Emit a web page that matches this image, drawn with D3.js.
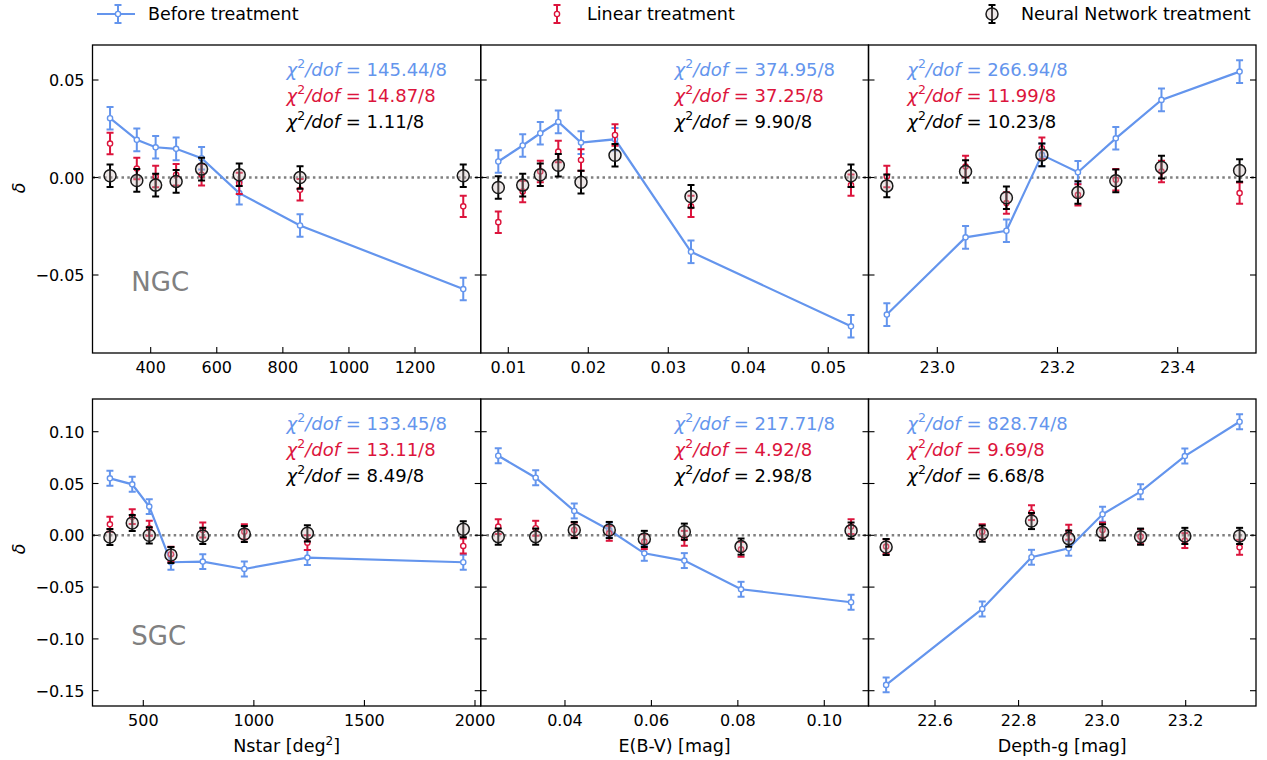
<!DOCTYPE html>
<html>
<head>
<meta charset="utf-8">
<script src="https://cdn.jsdelivr.net/npm/d3@7"></script>
<style>
  body { margin: 0; background: #fff; }
  svg { display: block; font-family: "DejaVu Sans", sans-serif; }
</style>
</head>
<body>
<svg id="chart" width="1267" height="760"></svg>
<script>
// ---- Systematics: mean density contrast delta per bin of each imaging map ----

// NGC, stellar density
const xNstarNGC      = [277, 358, 415, 477, 554, 668, 852, 1346];
const beforeNstarNGC = [0.0304, 0.0193, 0.0155, 0.0147, 0.0099, -0.0080, -0.0246, -0.0572];
const linearNstarNGC = [0.0174, 0.0046, 0.0005, 0.0014, 0.0014, -0.0030, -0.0063, -0.0148];
const nnNstarNGC     = [0.0009, -0.0015, -0.0039, -0.0020, 0.0043, 0.0014, 0.0000, 0.0009];
const chiNstarNGC    = ["145.44/8", "14.87/8", "1.11/8"];

// NGC, E(B-V)
const xEbvNGC      = [0.00875, 0.01180, 0.01400, 0.01625, 0.01909, 0.02334, 0.03284, 0.05284];
const beforeEbvNGC = [0.0082, 0.0164, 0.0227, 0.0285, 0.0179, 0.0196, -0.0381, -0.0763];
const linearEbvNGC = [-0.0229, -0.0072, 0.0031, 0.0133, 0.0090, 0.0218, -0.0148, -0.0039];
const nnEbvNGC     = [-0.0051, -0.0039, 0.0014, 0.0063, -0.0024, 0.0114, -0.0097, 0.0009];
const chiEbvNGC    = ["374.95/8", "37.25/8", "9.90/8"];

// NGC, g-band depth
const xDepthNGC      = [22.916, 23.047, 23.115, 23.174, 23.234, 23.297, 23.373, 23.503];
const beforeDepthNGC = [-0.0703, -0.0307, -0.0273, 0.0116, 0.0027, 0.0201, 0.0398, 0.0543];
const linearDepthNGC = [0.0005, 0.0056, -0.0131, 0.0150, -0.0089, -0.0012, 0.0031, -0.0080];
const nnDepthNGC     = [-0.0043, 0.0031, -0.0104, 0.0116, -0.0077, -0.0017, 0.0053, 0.0036];
const chiDepthNGC    = ["266.94/8", "11.99/8", "10.23/8"];

// SGC, stellar density
const xNstarSGC      = [349, 450, 527, 625, 769, 957, 1242, 1947];
const beforeNstarSGC = [0.0550, 0.0492, 0.0277, -0.0260, -0.0254, -0.0325, -0.0215, -0.0260];
const linearNstarSGC = [0.0106, 0.0180, 0.0068, -0.0183, 0.0051, 0.0035, -0.0071, -0.0103];
const nnNstarSGC     = [-0.0016, 0.0119, 0.0000, -0.0190, -0.0006, 0.0013, 0.0019, 0.0058];
const chiNstarSGC    = ["133.45/8", "13.11/8", "8.49/8"];

// SGC, E(B-V)
const xEbvSGC      = [0.02456, 0.03322, 0.04215, 0.05025, 0.05836, 0.06762, 0.08074, 0.10620];
const beforeEbvSGC = [0.0768, 0.0556, 0.0235, 0.0051, -0.0174, -0.0244, -0.0521, -0.0646];
const linearEbvSGC = [0.0084, 0.0068, 0.0051, 0.0019, -0.0061, -0.0029, -0.0135, 0.0084];
const nnEbvSGC     = [-0.0013, -0.0013, 0.0051, 0.0051, -0.0035, 0.0035, -0.0109, 0.0045];
const chiEbvSGC    = ["217.71/8", "4.92/8", "2.98/8"];

// SGC, g-band depth
const xDepthSGC      = [22.483, 22.713, 22.831, 22.920, 23.001, 23.092, 23.198, 23.329];
const beforeDepthSGC = [-0.1444, -0.0711, -0.0212, -0.0125, 0.0203, 0.0421, 0.0765, 0.1096];
const linearDepthSGC = [-0.0109, 0.0035, 0.0219, 0.0030, 0.0051, -0.0013, -0.0051, -0.0116];
const nnDepthSGC     = [-0.0113, 0.0016, 0.0138, -0.0032, 0.0029, -0.0013, -0.0006, -0.0006];
const chiDepthSGC    = ["828.74/8", "9.69/8", "6.68/8"];

// 1-sigma uncertainties [before, linear, NN] for each cap
const errNGC = [0.0058, 0.0055, 0.0058];
const errSGC = [0.0072, 0.0072, 0.0078];

// Tick values
const ticksNstarNGC = [400, 600, 800, 1000, 1200];
const ticksEbvNGC   = [0.01, 0.02, 0.03, 0.04, 0.05];
const ticksDepthNGC = [23.0, 23.2, 23.4];
const ticksNstarSGC = [500, 1000, 1500, 2000];
const ticksEbvSGC   = [0.04, 0.06, 0.08, 0.10];
const ticksDepthSGC = [22.6, 22.8, 23.0, 23.2];
const ticksDeltaNGC = [0.05, 0.00, -0.05];
const ticksDeltaSGC = [0.10, 0.05, 0.00, -0.05, -0.10, -0.15];

const xLabels = ["Nstar [deg", "E(B-V) [mag]", "Depth-g [mag]"];
const seriesNames = ["Before treatment", "Linear treatment", "Neural Network treatment"];

// ---- Styling ----
const BLUE = "#6495ED", RED = "#DC143C", BLACK = "#000000", GREY = "#808080";
const colors = [BLUE, RED, BLACK];
const NN_FILL = "rgba(205,190,190,0.35)";
const LABEL_SIZE = 17.5, TICK_SIZE = 16, CHI_SIZE = 18;

const svg = d3.select("#chart");
const colX = [92.5, 480.7, 868.5];
const colW = [388.2, 387.8, 387.5];
const rowY = [45, 399];
const rowH = [308, 307];

const panels = [
  { row: 0, col: 0, x: xNstarNGC, s: [beforeNstarNGC, linearNstarNGC, nnNstarNGC], chi: chiNstarNGC,
    xDomain: [223.9, 1398.8], xTicks: ticksNstarNGC, fmt: d3.format("d"), tag: "NGC" },
  { row: 0, col: 1, x: xEbvNGC, s: [beforeEbvNGC, linearEbvNGC, nnEbvNGC], chi: chiEbvNGC,
    xDomain: [0.00655, 0.05503], xTicks: ticksEbvNGC, fmt: d3.format(".2f") },
  { row: 0, col: 2, x: xDepthNGC, s: [beforeDepthNGC, linearDepthNGC, nnDepthNGC], chi: chiDepthNGC,
    xDomain: [22.8855, 23.5303], xTicks: ticksDepthNGC, fmt: d3.format(".1f"), chiLeft: true },
  { row: 1, col: 0, x: xNstarSGC, s: [beforeNstarSGC, linearNstarSGC, nnNstarSGC], chi: chiNstarSGC,
    xDomain: [270.3, 2025.8], xTicks: ticksNstarSGC, fmt: d3.format("d"), tag: "SGC" },
  { row: 1, col: 1, x: xEbvSGC, s: [beforeEbvSGC, linearEbvSGC, nnEbvSGC], chi: chiEbvSGC,
    xDomain: [0.0205, 0.11023], xTicks: ticksEbvSGC, fmt: d3.format(".2f") },
  { row: 1, col: 2, x: xDepthSGC, s: [beforeDepthSGC, linearDepthSGC, nnDepthSGC], chi: chiDepthSGC,
    xDomain: [22.4408, 23.3683], xTicks: ticksDepthSGC, fmt: d3.format(".1f"), chiLeft: true }
];

const yDomains = [[-0.0900, 0.06795], [-0.16477, 0.13157]];
const yTicks = [ticksDeltaNGC, ticksDeltaSGC];
const errs = [errNGC, errSGC];
const TICK = 6;

function errorBar(g, cx, y, v, e, color, capHalf, width) {
  const y0 = y(v - e), y1 = y(v + e);
  g.append("line").attr("x1", cx).attr("x2", cx).attr("y1", y0).attr("y2", y1)
    .attr("stroke", color).attr("stroke-width", width);
  [y0, y1].forEach(yy => g.append("line")
    .attr("x1", cx - capHalf).attr("x2", cx + capHalf).attr("y1", yy).attr("y2", yy)
    .attr("stroke", color).attr("stroke-width", width));
}

panels.forEach(p => {
  const left = colX[p.col], top = rowY[p.row], w = colW[p.col], h = rowH[p.row];
  const x = d3.scaleLinear().domain(p.xDomain).range([left, left + w]);
  const y = d3.scaleLinear().domain(yDomains[p.row]).range([top + h, top]);
  const g = svg.append("g");
  const clipId = `clip-${p.row}-${p.col}`;
  svg.append("clipPath").attr("id", clipId)
    .append("rect").attr("x", left).attr("y", top).attr("width", w).attr("height", h);

  // zero reference
  g.append("line").attr("x1", left).attr("x2", left + w).attr("y1", y(0)).attr("y2", y(0))
    .attr("stroke", GREY).attr("stroke-width", 2.5).attr("stroke-dasharray", "2.5,3.3");

  const plot = g.append("g").attr("clip-path", `url(#${clipId})`);
  const e = errs[p.row];

  // before treatment: line + error bars + small open markers
  const line = d3.line().x((d, i) => x(p.x[i])).y(d => y(d));
  plot.append("path").datum(p.s[0]).attr("d", line)
    .attr("fill", "none").attr("stroke", BLUE).attr("stroke-width", 2.2);
  p.s[0].forEach((v, i) => errorBar(plot, x(p.x[i]), y, v, e[0], BLUE, 3.5, 2));
  p.s[0].forEach((v, i) => plot.append("circle").attr("cx", x(p.x[i])).attr("cy", y(v)).attr("r", 2.6)
    .attr("fill", "#fff").attr("stroke", BLUE).attr("stroke-width", 1.4));

  // linear treatment
  p.s[1].forEach((v, i) => errorBar(plot, x(p.x[i]), y, v, e[1], RED, 3.5, 2));
  p.s[1].forEach((v, i) => plot.append("circle").attr("cx", x(p.x[i])).attr("cy", y(v)).attr("r", 2.6)
    .attr("fill", "#fff").attr("stroke", RED).attr("stroke-width", 1.4));

  // neural network treatment
  p.s[2].forEach((v, i) => errorBar(plot, x(p.x[i]), y, v, e[2], BLACK, 3.5, 2));
  p.s[2].forEach((v, i) => plot.append("circle").attr("cx", x(p.x[i])).attr("cy", y(v)).attr("r", 6)
    .attr("fill", NN_FILL).attr("stroke", "#1a1a1a").attr("stroke-width", 1.5));

  // frame
  g.append("rect").attr("x", left).attr("y", top).attr("width", w).attr("height", h)
    .attr("fill", "none").attr("stroke", "#000").attr("stroke-width", 1.3);

  // x ticks (inward) and labels
  p.xTicks.forEach(t => {
    const tx = x(t);
    g.append("line").attr("x1", tx).attr("x2", tx).attr("y1", top + h).attr("y2", top + h - TICK)
      .attr("stroke", "#000").attr("stroke-width", 1.1);
    g.append("text").attr("x", tx).attr("y", top + h + 20).attr("text-anchor", "middle")
      .attr("font-size", TICK_SIZE).attr("fill", "#000").text(p.fmt(t));
  });

  // y ticks on both sides (inward); labels on the first column only
  yTicks[p.row].forEach(t => {
    const ty = y(t);
    g.append("line").attr("x1", left).attr("x2", left + TICK).attr("y1", ty).attr("y2", ty)
      .attr("stroke", "#000").attr("stroke-width", 1.1);
    g.append("line").attr("x1", left + w).attr("x2", left + w - TICK).attr("y1", ty).attr("y2", ty)
      .attr("stroke", "#000").attr("stroke-width", 1.1);
    if (p.col === 0) {
      g.append("text").attr("x", left - 8).attr("y", ty + 6).attr("text-anchor", "end")
        .attr("font-size", TICK_SIZE).attr("fill", "#000").text(d3.format(".2f")(t));
    }
  });

  // chi-square annotations
  const cx = p.chiLeft ? left + 0.1 * w : left + 0.5 * w;
  p.chi.forEach((c, k) => {
    const t = g.append("text").attr("x", cx).attr("y", top + 31 + k * 26)
      .attr("font-size", CHI_SIZE).attr("fill", colors[k]);
    t.append("tspan").attr("font-style", "italic").text("χ");
    t.append("tspan").attr("font-size", 12.5).attr("dy", -8).text("2");
    t.append("tspan").attr("font-style", "italic").attr("dy", 8).text("/dof");
    t.append("tspan").text(" = " + c);
  });

  if (p.tag) {
    g.append("text").attr("x", left + 0.1 * w).attr("y", top + 0.8 * h)
      .attr("font-size", 26).attr("fill", GREY).text(p.tag);
  }
});

// y-axis labels
const yLabelY = [188, 549];
yLabelY.forEach(cy => {
  svg.append("text").attr("transform", `translate(25,${cy}) rotate(-90)`)
    .attr("text-anchor", "middle").attr("font-size", LABEL_SIZE).attr("font-style", "italic").text("δ");
});

// x-axis labels
xLabels.forEach((lab, c) => {
  const t = svg.append("text").attr("x", colX[c] + colW[c] / 2).attr("y", 752)
    .attr("text-anchor", "middle").attr("font-size", LABEL_SIZE).attr("fill", "#000");
  t.append("tspan").text(lab);
  if (c === 0) {
    t.append("tspan").attr("font-size", 12).attr("dy", -7).text("2");
    t.append("tspan").attr("dy", 7).text("]");
  }
});

// legend
const leg = svg.append("g");
const legX = [118, 557, 992];
legX.forEach((lx, k) => {
  const cy = 14;
  if (k === 0) {
    leg.append("line").attr("x1", lx - 21).attr("x2", lx + 17).attr("y1", cy).attr("y2", cy)
      .attr("stroke", BLUE).attr("stroke-width", 2.2);
  }
  leg.append("line").attr("x1", lx).attr("x2", lx).attr("y1", cy - 9).attr("y2", cy + 9)
    .attr("stroke", colors[k]).attr("stroke-width", 2);
  [cy - 9, cy + 9].forEach(yy => leg.append("line").attr("x1", lx - 3.5).attr("x2", lx + 3.5)
    .attr("y1", yy).attr("y2", yy).attr("stroke", colors[k]).attr("stroke-width", 2));
  if (k < 2) {
    leg.append("circle").attr("cx", lx).attr("cy", cy).attr("r", 2.6)
      .attr("fill", "#fff").attr("stroke", colors[k]).attr("stroke-width", 1.4);
  } else {
    leg.append("circle").attr("cx", lx).attr("cy", cy).attr("r", 6)
      .attr("fill", NN_FILL).attr("stroke", "#1a1a1a").attr("stroke-width", 1.5);
  }
  leg.append("text").attr("x", lx + (k === 2 ? 29 : 30)).attr("y", cy + 6)
    .attr("font-size", LABEL_SIZE).attr("fill", "#000").text(seriesNames[k]);
});
</script>
</body>
</html>
